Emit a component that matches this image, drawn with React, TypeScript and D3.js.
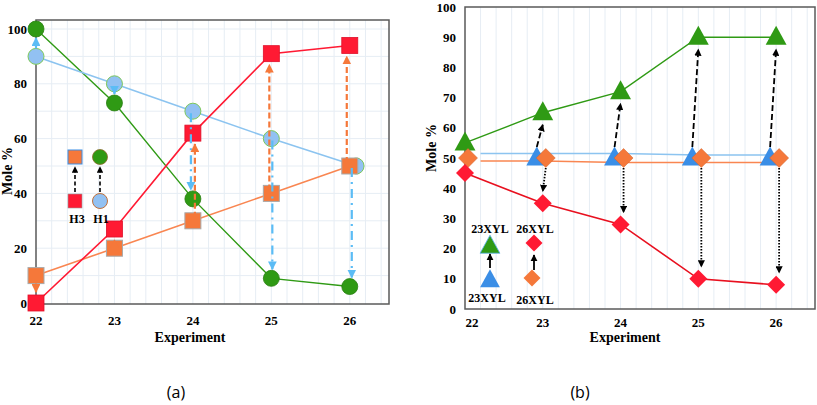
import React from "react"
import * as d3 from "d3"

const experiments = [22, 23, 24, 25, 26]

// panel (a)
const aGreen = [100, 73, 38, 9, 6]
const aBlue = [90, 80, 70, 60, 50]
const aBlueX = [22, 23, 24, 25, 26.08]
const aRed = [0, 27, 62, 91, 94]
const aOrange = [10, 20, 30, 40, 50]
const aYTicks = [0, 20, 40, 60, 80, 100]

// panel (b)
const bGreen = [55, 65, 72, 90, 90]
const bBlue = [null, 50, 50, 50, 50]
const bBlueLine = [51.5, 51.5, 51.5, 51, 51]
const bOrange = [50, 50, 50, 50, 50]
const bOrangeLine = [49, 49, 48.5, 48.5, 48.5]
const bRed = [45, 35, 28, 10, 8]
const bYTicks = [0, 10, 20, 30, 40, 50, 60, 70, 80, 90, 100]

const C = {
  green: "#2f9a14",
  blue: "#92c1f2",
  blueLine: "#8cc4f0",
  blueArrow: "#5bbcf5",
  red: "#ff1a33",
  orange: "#f5783a",
  orangeLine: "#f98651",
  triBlue: "#3a8ee6",
  frame: "#5a5a5a",
  grid: "#e6edf4",
}

const serif = "Liberation Serif, DejaVu Serif, Times New Roman, serif"

const Marker = ({ id, color }: { id: string; color: string }) => (
  <marker id={id} viewBox="0 0 10 10" refX="9" refY="5" markerWidth="4" markerHeight="4" orient="auto">
    <path d="M0,0 L10,5 L0,10 z" fill={color} />
  </marker>
)

const tri = (cx: number, cy: number, s: number) =>
  `M${cx},${cy - s * 0.6} L${cx + s * 0.55},${cy + s * 0.4} L${cx - s * 0.55},${cy + s * 0.4} Z`
const dia = (cx: number, cy: number, r: number) =>
  `M${cx},${cy - r} L${cx + r},${cy} L${cx},${cy + r} L${cx - r},${cy} Z`

function PanelA() {
  const x = d3.scaleLinear().domain([22, 26.5]).range([36, 389])
  const y = d3.scaleLinear().domain([0, 100]).range([303, 29])
  const top = 20
  const bottom = 304
  const line = d3.line<[number, number]>().x((d) => x(d[0])).y((d) => y(d[1]))
  const vGrid = d3.range(22.2, 26.5, 0.2)
  const hGrid = d3.range(10, 101, 10)
  const blueDx = [0, 0, -2, 1, 2]
  const orDx = [0, 0, 2, -2, -3]
  const r = 8
  return (
    <g>
      {vGrid.map((v, i) => (
        <line key={"v" + i} x1={x(v)} x2={x(v)} y1={top} y2={bottom} stroke={C.grid} strokeWidth={1} />
      ))}
      {hGrid.map((v, i) => (
        <line key={"h" + i} x1={x(22)} x2={x(26.5)} y1={y(v)} y2={y(v)} stroke={C.grid} strokeWidth={1} />
      ))}
      <rect x={x(22)} y={top} width={x(26.5) - x(22)} height={bottom - top} fill="none" stroke={C.frame} strokeWidth={1.5} />

      <path d={line(experiments.map((e, i) => [e, aOrange[i]]))!} fill="none" stroke={C.orangeLine} strokeWidth={1.6} />
      <path d={line(experiments.map((e, i) => [e, aGreen[i]]))!} fill="none" stroke={C.green} strokeWidth={1.4} />
      <path d={line(aBlueX.map((e, i) => [e, aBlue[i]]))!} fill="none" stroke={C.blueLine} strokeWidth={1.6} />
      <path d={line(experiments.map((e, i) => [e, aRed[i]]))!} fill="none" stroke={C.red} strokeWidth={1.6} />

      {aBlue.map((v, i) => (
        <circle key={"bc" + i} cx={x(aBlueX[i])} cy={y(v)} r={r} fill={C.blue} stroke="#7ec85a" strokeWidth={1} />
      ))}
      {aGreen.map((v, i) => (
        <circle key={"gc" + i} cx={x(experiments[i])} cy={y(v)} r={r} fill={C.green} stroke="#2a7f12" strokeWidth={0.8} />
      ))}
      {aOrange.map((v, i) => (
        <rect key={"os" + i} x={x(experiments[i]) - r} y={y(v) - r} width={2 * r} height={2 * r} fill={C.orange} stroke="#a9a9a9" strokeWidth={1} />
      ))}
      {aRed.map((v, i) => (
        <rect key={"rs" + i} x={x(experiments[i]) - r} y={y(v) - r} width={2 * r} height={2 * r} fill={C.red} stroke="#e0102a" strokeWidth={0.8} />
      ))}

      {/* blue arrows: H1 -> green */}
      {aBlue.map((v, i) => {
        const g = aGreen[i]
        const dir = g > v ? -1 : 1
        const xx = x(experiments[i]) + blueDx[i]
        return (
          <line
            key={"ba" + i}
            x1={xx}
            x2={xx}
            y1={y(v) + dir * (i < 2 ? r : 2)}
            y2={y(g) - dir * (r + 1)}
            stroke={C.blueArrow}
            strokeWidth={2.2}
            strokeDasharray={i < 2 ? undefined : "9 5 2 5"}
            markerEnd="url(#mBlue)"
          />
        )
      })}
      {/* orange arrows: orange -> red */}
      {aOrange.map((v, i) => {
        const t = aRed[i]
        const dir = t > v ? -1 : 1
        const xx = x(experiments[i]) + orDx[i]
        return (
          <line
            key={"oa" + i}
            x1={xx}
            x2={xx}
            y1={y(v) + dir * (i < 2 ? r : 3)}
            y2={y(t) - dir * (r + 3)}
            stroke={C.orange}
            strokeWidth={2.2}
            strokeDasharray={i < 2 ? undefined : "6 3"}
            markerEnd="url(#mOrange)"
          />
        )
      })}

      {/* legend */}
      <rect x={68} y={150} width={14} height={14} fill={C.orange} stroke="#3a8ee6" strokeWidth={1} />
      <rect x={68} y={194} width={14} height={14} fill={C.red} stroke="#999" strokeWidth={0.6} />
      <line x1={75} x2={75} y1={192} y2={167} stroke="#000" strokeWidth={1.6} strokeDasharray="4 2.5" markerEnd="url(#mBlack)" />
      <circle cx={100} cy={157} r={7.5} fill={C.green} stroke="#8a6a2a" strokeWidth={0.8} />
      <circle cx={100} cy={201} r={7.5} fill={C.blue} stroke="#c0703a" strokeWidth={1} />
      <line x1={100} x2={100} y1={192} y2={167} stroke="#000" strokeWidth={1.6} strokeDasharray="4 2.5" markerEnd="url(#mBlack)" />
      <text x={77} y={223} textAnchor="middle" fontFamily={serif} fontWeight="bold" fontSize={12}>H3</text>
      <text x={101} y={223} textAnchor="middle" fontFamily={serif} fontWeight="bold" fontSize={12}>H1</text>

      {/* axes text */}
      {aYTicks.map((t) => (
        <text key={"yt" + t} x={27} y={y(t) + 4.5} textAnchor="end" fontFamily={serif} fontWeight="bold" fontSize={13}>{t}</text>
      ))}
      {experiments.map((e) => (
        <text key={"xt" + e} x={x(e)} y={325} textAnchor="middle" fontFamily={serif} fontWeight="bold" fontSize={13}>{e}</text>
      ))}
      <text x={190} y={342} textAnchor="middle" fontFamily={serif} fontWeight="bold" fontSize={14}>Experiment</text>
      <text transform="translate(12,171) rotate(-90)" textAnchor="middle" fontFamily={serif} fontWeight="bold" fontSize={14}>Mole %</text>
      <text x={176} y={398} textAnchor="middle" fontFamily="Open Sans, sans-serif" fontSize={16}>(a)</text>
    </g>
  )
}

function PanelB() {
  const x = d3.scaleLinear().domain([22, 26.5]).range([465, 815])
  const y = d3.scaleLinear().domain([0, 100]).range([309, 7])
  const top = 7
  const bottom = 309
  const line = d3.line<[number, number]>().x((d) => x(d[0])).y((d) => y(d[1]))
  const vGrid = d3.range(22.2, 26.5, 0.2)
  const blueOff = -6
  const orOff = 3
  const lineStart = 22.2
  return (
    <g>
      {vGrid.map((v, i) => (
        <line key={"v" + i} x1={x(v)} x2={x(v)} y1={top} y2={bottom} stroke={C.grid} strokeWidth={1} />
      ))}
      <rect x={x(22)} y={top} width={x(26.5) - x(22)} height={bottom - top} fill="none" stroke={C.frame} strokeWidth={1.5} />

      <path
        d={line(experiments.map((e, i) => [i === 0 ? lineStart : e, bBlueLine[i]]))!}
        fill="none" stroke={C.blueLine} strokeWidth={1.6}
      />
      <path
        d={line(experiments.map((e, i) => [i === 0 ? lineStart : e, bOrangeLine[i]]))!}
        fill="none" stroke={C.orangeLine} strokeWidth={1.6}
      />
      <path d={line(experiments.map((e, i) => [e, bGreen[i]]))!} fill="none" stroke={C.green} strokeWidth={1.4} />
      <path d={line(experiments.map((e, i) => [e, bRed[i]]))!} fill="none" stroke="#e8101f" strokeWidth={1.6} />

      {bGreen.map((v, i) => (
        <path key={"gt" + i} d={tri(x(experiments[i]), y(v), 19)} fill={C.green} />
      ))}
      {bBlue.map((v, i) =>
        v === null ? null : <path key={"bt" + i} d={tri(x(experiments[i]) + blueOff, y(v), 19)} fill={C.triBlue} />
      )}
      {bOrange.map((v, i) => (
        <path key={"od" + i} d={dia(x(experiments[i]) + orOff, y(v), 9.5)} fill={C.orange} stroke="#d0602a" strokeWidth={0.5} />
      ))}
      {bRed.map((v, i) => (
        <path key={"rd" + i} d={dia(x(experiments[i]), y(v), 9)} fill={C.red} />
      ))}

      {/* blue -> green dashed arrows */}
      {bBlue.map((v, i) =>
        v === null ? null : (
          <line
            key={"ka" + i}
            x1={x(experiments[i]) + blueOff}
            y1={y(v) - 11}
            x2={x(experiments[i])}
            y2={y(bGreen[i]) + 12}
            stroke="#000"
            strokeWidth={1.8}
            strokeDasharray="6 3"
            markerEnd="url(#mBlack)"
          />
        )
      )}
      {/* orange -> red dotted arrows */}
      {bOrange.map((v, i) =>
        i === 0 ? null : (
          <line
            key={"da" + i}
            x1={x(experiments[i]) + orOff}
            y1={y(v) + 10}
            x2={x(experiments[i]) + (i === 1 ? 0 : orOff)}
            y2={y(bRed[i]) - 12}
            stroke="#000"
            strokeWidth={1.8}
            strokeDasharray="1.5 1.5"
            markerEnd="url(#mBlack)"
          />
        )
      )}

      {/* legend */}
      <text x={490} y={233} textAnchor="middle" fontFamily={serif} fontWeight="bold" fontSize={12}>23XYL</text>
      <path d={tri(490, 246, 18)} fill={C.green} stroke="#5ab0f0" strokeWidth={0.8} />
      <line x1={490} x2={490} y1={268} y2={254} stroke="#000" strokeWidth={1.8} markerEnd="url(#mBlack)" />
      <path d={tri(490, 280, 18)} fill={C.triBlue} />
      <text x={487} y={302} textAnchor="middle" fontFamily={serif} fontWeight="bold" fontSize={12}>23XYL</text>

      <text x={535} y={233} textAnchor="middle" fontFamily={serif} fontWeight="bold" fontSize={12}>26XYL</text>
      <path d={dia(534, 243, 8.5)} fill={C.red} />
      <line x1={534} x2={534} y1={270} y2={255} stroke="#000" strokeWidth={1.8} markerEnd="url(#mBlack)" />
      <path d={dia(532, 278, 8.5)} fill={C.orange} />
      <text x={535} y={304} textAnchor="middle" fontFamily={serif} fontWeight="bold" fontSize={12}>26XYL</text>

      {/* axes text */}
      {bYTicks.map((t) => (
        <text key={"yt" + t} x={456} y={y(t) + 4.5} textAnchor="end" fontFamily={serif} fontWeight="bold" fontSize={13}>{t}</text>
      ))}
      {experiments.map((e, i) => (
        <text key={"xt" + e} x={x(e) + (i === 0 ? 7 : 0)} y={327} textAnchor="middle" fontFamily={serif} fontWeight="bold" fontSize={13}>{e}</text>
      ))}
      <text x={625} y={342} textAnchor="middle" fontFamily={serif} fontWeight="bold" fontSize={14}>Experiment</text>
      <text transform="translate(436,148) rotate(-90)" textAnchor="middle" fontFamily={serif} fontWeight="bold" fontSize={14}>Mole %</text>
      <text x={580} y={398} textAnchor="middle" fontFamily="Open Sans, sans-serif" fontSize={16}>(b)</text>
    </g>
  )
}

export default function App() {
  return (
    <svg
      width={817}
      height={405}
      style={{ position: "absolute", left: 0, top: 0, background: "#fff" }}
    >
      <defs>
        <Marker id="mBlue" color={C.blueArrow} />
        <Marker id="mOrange" color={C.orange} />
        <Marker id="mBlack" color="#000" />
      </defs>
      <rect width={817} height={405} fill="#fff" />
      <PanelA />
      <PanelB />
    </svg>
  )
}
